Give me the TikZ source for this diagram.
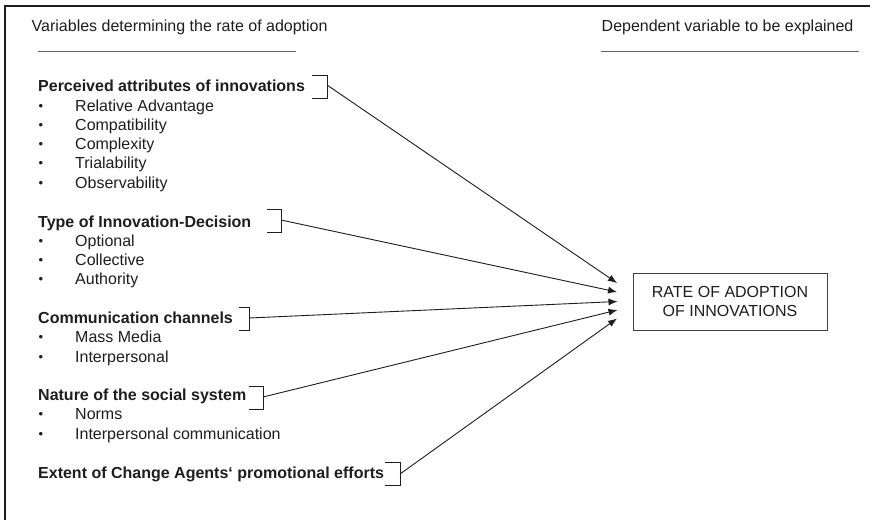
\documentclass[tikz,border=0pt]{standalone}
\usepackage{fontspec}
\setmainfont{Liberation Sans}
\usetikzlibrary{arrows.meta}
\definecolor{ink}{HTML}{1E1E1E}
\begin{document}
\begin{tikzpicture}[x=1pt,y=-1pt,
  txt/.style={anchor=base west,inner sep=0pt,font=\fontsize{16}{19.4}\selectfont,text=ink},
  head/.style={txt,font=\fontsize{16}{19.4}\selectfont\bfseries},
  dotmark/.style={txt,font=\fontsize{13}{19.4}\selectfont},
  brk/.style={draw=ink,line width=0.8pt},
  link/.style={draw=ink,line width=0.9pt,-{Latex[length=9pt,width=7pt]}},
  rule/.style={draw=black!60,line width=1pt},
  target/.style={draw=black!75,line width=0.9pt,minimum width=194pt,minimum height=57pt,
    align=center,inner sep=0pt,font=\fontsize{16}{19.4}\selectfont,text=ink},
]
\useasboundingbox (0,0) rectangle (870,520);
\fill[white] (0,0) rectangle (870,520);

% frame: top and left edges
\draw[line width=2.2pt, ink] (870,6) -- (5,6) -- (5,520);

% column titles with their rules
\node[txt] (lefttitle) at (31.5,31) {Variables determining the rate of adoption};
\draw[rule] (38,51.5) -- (296,51.5);
\node[txt] (righttitle) at (601.5,31) {Dependent variable to be explained};
\draw[rule] (601,51.5) -- (859,51.5);

% bullet list entry: name, baseline y, text
\newcommand\entry[3]{%
  \node[dotmark] (#1-dot) at (38.5,#2-1) {•};
  \node[txt] (#1) at (75,#2) {#3};}

% group 1
\node[head] (g1) at (38,91) {Perceived attributes of innovations};
\entry{g1a}{111}{Relative Advantage}
\entry{g1b}{130.3}{Compatibility}
\entry{g1c}{149.6}{Complexity}
\entry{g1d}{168.9}{Trialability}
\entry{g1e}{188.2}{Observability}

% group 2
\node[head] (g2) at (38,227) {Type of Innovation-Decision};
\entry{g2a}{246.3}{Optional}
\entry{g2b}{265.6}{Collective}
\entry{g2c}{284.9}{Authority}

% group 3
\node[head] (g3) at (38,323.5) {Communication channels};
\entry{g3a}{342.8}{Mass Media}
\entry{g3b}{362.1}{Interpersonal}

% group 4
\node[head] (g4) at (38,400.5) {Nature of the social system};
\entry{g4a}{419.8}{Norms}
\entry{g4b}{439.1}{Interpersonal communication}

% group 5
\node[head] (g5) at (38,478.5) {Extent of Change Agents‘ promotional efforts};

% brackets closing each group heading
\draw[brk] (312,75) -- (327,75) -- (327,98.5) -- (312,98.5);
\coordinate (b1) at (327,85);
\draw[brk] (267,209) -- (281,209) -- (281,232) -- (267,232);
\coordinate (b2) at (281,220);
\draw[brk] (239,307) -- (249,307) -- (249,330) -- (239,330);
\coordinate (b3) at (249,318);
\draw[brk] (249,386) -- (263,386) -- (263,409) -- (249,409);
\coordinate (b4) at (263,397);
\draw[brk] (385,462) -- (400,462) -- (400,485.5) -- (385,485.5);
\coordinate (b5) at (400,474);

% dependent variable
\node[target] (rate) at (730,301.5) {RATE OF ADOPTION\\OF INNOVATIONS};

% arrow ends in front of the box
\coordinate (t1) at (617,283);
\coordinate (t2) at (617,292);
\coordinate (t3) at (617.5,301.5);
\coordinate (t4) at (617.5,310);
\coordinate (t5) at (617,318.5);

\draw[link] (b1) -- (t1);
\draw[link] (b2) -- (t2);
\draw[link] (b3) -- (t3);
\draw[link] (b4) -- (t4);
\draw[link] (b5) -- (t5);
\end{tikzpicture}
\end{document}
